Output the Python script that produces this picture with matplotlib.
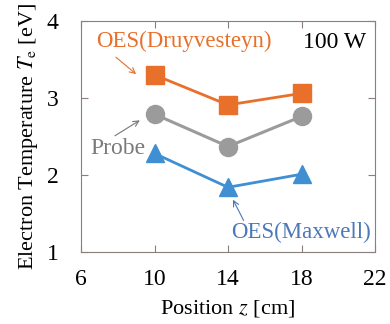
import matplotlib.pyplot as plt

# ── DATOS ─────────────────────────────────────────────────────────────
posicion = [10, 14, 18]
te_druyvesteyn = [3.30, 2.91, 3.06]
te_probe = [2.79, 2.37, 2.76]
te_maxwell = [2.28, 1.84, 2.01]

xticks = [6, 10, 14, 18, 22]
yticks = [1, 2, 3, 4]

naranja = '#e8702a'
gris = '#9b9b9b'
azul = '#3f8fd2'

plt.rcParams['font.family'] = ['Liberation Serif', 'DejaVu Serif']
plt.rcParams['mathtext.fontset'] = 'stix'

fig = plt.figure(figsize=(3.9, 3.24), dpi=100)
ax = fig.add_axes([81 / 390, 1 - 252 / 324, (375 - 81) / 390, (252 - 21) / 324])

ax.plot(posicion, te_druyvesteyn, color=naranja, marker='s', ms=12.5, lw=2)
ax.plot(posicion, te_probe, color=gris, marker='o', ms=13, lw=2.2)
ax.plot(posicion, te_maxwell, color=azul, marker='^', ms=13.5, lw=2)

ax.set_xlim(6, 22)
ax.set_ylim(1, 4)
ax.set_xticks(xticks)
ax.set_xticklabels([str(t) for t in xticks], fontfamily='Liberation Serif')
ax.set_yticks(yticks)
ax.set_yticklabels([str(t) for t in yticks], fontfamily='Liberation Serif')
ax.tick_params(direction='in', top=True, right=True, labelsize=17,
               color='#8a7f7a', length=5)
ax.tick_params(axis='y', pad=16)
ax.tick_params(axis='x', pad=12)
for s in ax.spines.values():
    s.set_color('#8a7f7a')

ax.set_xlabel('Position $z$ [cm]', fontsize=16, labelpad=6)
ax.set_ylabel('Electron Temperature $T_{\\mathrm{e}}$ [eV]', fontsize=16, labelpad=5)

ax.text(21.5, 3.72, '100 W', fontsize=17, ha='right', va='center')

ax.text(6.85, 3.74, 'OES(Druyvesteyn)', color=naranja, fontsize=16.5, va='center')
ax.text(6.5, 2.35, 'Probe', color='#7a7a7a', fontsize=17, va='center')
ax.text(21.8, 1.26, 'OES(Maxwell)', color='#4d78b8', fontsize=16.5,
        ha='right', va='center')

flecha = dict(arrowstyle='->', lw=0.8, shrinkA=0, shrinkB=0)
ax.annotate('', xy=(9.0, 3.31), xytext=(7.9, 3.53),
            arrowprops=dict(flecha, color=naranja))
ax.annotate('', xy=(9.2, 2.71), xytext=(7.85, 2.51),
            arrowprops=dict(flecha, color='#777777'))
ax.annotate('', xy=(14.27, 1.68), xytext=(14.85, 1.41),
            arrowprops=dict(flecha, color='#4d78b8'))

fig.savefig('out.png', dpi=100)
